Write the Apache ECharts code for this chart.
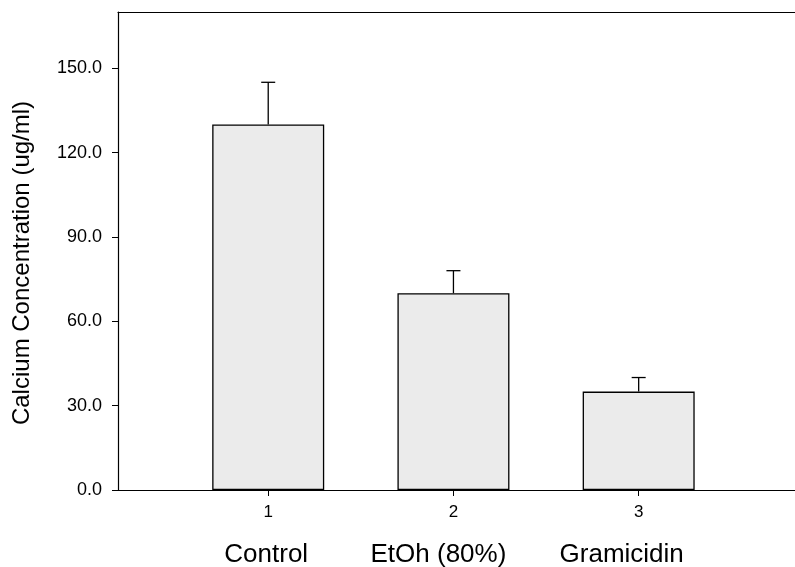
<!DOCTYPE html>
<html>
<head>
<meta charset="utf-8">
<script src="https://cdn.jsdelivr.net/npm/echarts@6/dist/echarts.min.js"></script>
<style>
  html, body { margin: 0; padding: 0; background: #fff; }
  #chart { width: 795px; height: 567px; }
</style>
</head>
<body>
<div id="chart"></div>
<script>
// data
const groups = ['Control', 'EtOh (80%)', 'Gramicidin']
const positions = [1, 2, 3]
const means = [130, 70, 35]
const errors = [15, 8, 5]
const yTicks = [0, 30, 60, 90, 120, 150]

const font = 'Liberation Sans, Arial, sans-serif'
const chart = echarts.init(document.getElementById('chart'))

const barData = positions.map((p, i) => [p, means[i]])
const errData = positions.map((p, i) => [p, means[i], means[i] + errors[i]])

chart.setOption({
  animation: false,
  grid: { left: 118, right: 0, top: 12, bottom: 77 },
  xAxis: [
    {
      type: 'value',
      min: 0.189,
      max: 3.844,
      splitLine: { show: false },
      axisLine: { lineStyle: { color: '#000', width: 1.2 } },
      axisTick: { customValues: positions, length: 6, lineStyle: { color: '#000' } },
      axisLabel: {
        customValues: positions,
        margin: 14,
        color: '#000',
        fontFamily: font,
        fontSize: 17,
        formatter: v => String(v)
      }
    },
    {
      type: 'value',
      position: 'top',
      min: 0.189,
      max: 3.844,
      splitLine: { show: false },
      axisLine: { show: true, lineStyle: { color: '#000', width: 1.2 } },
      axisTick: { show: false },
      axisLabel: { show: false }
    }
  ],
  yAxis: {
    type: 'value',
    min: 0,
    max: 170,
    splitLine: { show: false },
    axisLine: { show: true, lineStyle: { color: '#000', width: 1.2 } },
    axisTick: { show: true, customValues: yTicks, length: 6, lineStyle: { color: '#000' } },
    axisLabel: {
      customValues: yTicks,
      margin: 16,
      color: '#000',
      fontFamily: font,
      fontSize: 18,
      formatter: v => v.toFixed(1)
    },
    name: 'Calcium Concentration (ug/ml)',
    nameLocation: 'middle',
    nameRotate: 90,
    nameGap: 84,
    nameTextStyle: { color: '#000', fontFamily: font, fontSize: 24, padding: [0, 24, 0, 0] }
  },
  series: [
    {
      type: 'bar',
      data: barData,
      barWidth: 112,
      itemStyle: { color: '#ebebeb', borderColor: '#000', borderWidth: 1.3 }
    },
    {
      type: 'custom',
      data: errData,
      z: 3,
      renderItem (params, api) {
        const x = api.value(0)
        const base = api.coord([x, api.value(1)])
        const top = api.coord([x, api.value(2)])
        const style = { stroke: '#000', lineWidth: 1.3 }
        return {
          type: 'group',
          children: [
            { type: 'line', shape: { x1: base[0], y1: base[1], x2: top[0], y2: top[1] }, style },
            { type: 'line', shape: { x1: top[0] - 7, y1: top[1], x2: top[0] + 7, y2: top[1] }, style }
          ]
        }
      }
    }
  ]
})

// group names sit under the tick numbers, a little to the left for the longer ones
const nudge = [-2, -15, -17]
chart.setOption({
  graphic: groups.map((g, i) => ({
    type: 'text',
    x: chart.convertToPixel({ xAxisIndex: 0 }, positions[i]) + nudge[i],
    y: 555,
    style: {
      text: g,
      fill: '#000',
      font: '26px ' + font,
      align: 'center',
      verticalAlign: 'middle'
    }
  }))
})
</script>
</body>
</html>
